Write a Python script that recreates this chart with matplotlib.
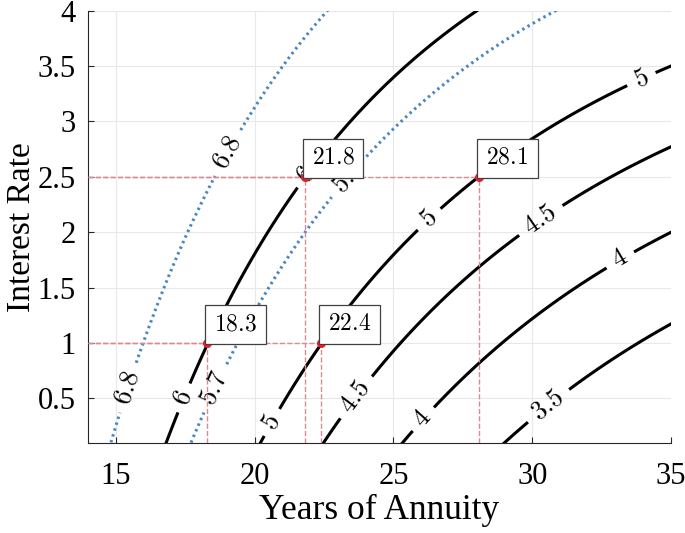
import numpy as np
import matplotlib
matplotlib.use("Agg")
import matplotlib.pyplot as plt

plt.rcParams['font.family'] = ['Liberation Serif', 'DejaVu Serif']
plt.rcParams['mathtext.fontset'] = 'cm'

# contour levels
black_levels = [3.5, 4, 4.5, 5, 6]
blue_levels = [5.7, 6.8]

# marked points (years, interest rate)
point_years = [18.3, 22.4, 21.8, 28.1]
point_rates = [1.0, 1.0, 2.5, 2.5]

# manual label positions (years, rate)
black_label_pos = [(21.7, 2.55), (17.3, 0.52), (20.5, 0.3), (26.2, 2.14), (33.9, 3.4),
                   (23.6, 0.52), (30.3, 2.11), (26.0, 0.33), (33.1, 1.78), (30.5, 0.46)]
blue_label_pos = [(19.0, 2.72), (15.4, 0.6), (18.5, 0.6), (23.4, 2.5)]

x_ticks = [15, 20, 25, 30, 35]
y_ticks = [0.5, 1, 1.5, 2, 2.5, 3, 3.5, 4]

# annuity payout rate (% of principal per year) on a grid
years = np.linspace(13.5, 35.5, 400)
rates = np.linspace(0.05, 4.1, 400)
N, R = np.meshgrid(years, rates)
r = R / 100.0
Z = 100.0 * r / (1.0 - (1.0 + r) ** (-N))

fig = plt.figure(figsize=(6.85, 5.33), dpi=100)
ax = fig.add_axes([0.1285, 0.1694, 0.8511, 0.8106])

ax.grid(True, color='#e8e8e8', linewidth=0.8)
ax.set_axisbelow(True)

fmt = lambda v: f'${v:g}$'

cb = ax.contour(N, R, Z, levels=black_levels, colors='black', linewidths=2.2)
ax.clabel(cb, fmt=fmt, fontsize=19, inline=True, inline_spacing=8,
          manual=black_label_pos, colors='black')

cl = ax.contour(N, R, Z, levels=blue_levels, colors='#4a86bf', linewidths=2.2,
                linestyles=[(0, (0.8, 1.2))])
ax.clabel(cl, fmt=fmt, fontsize=19, inline=True, inline_spacing=8,
          manual=blue_label_pos, colors='black')

dash_col = '#db8a94'
for px, py in zip(point_years, point_rates):
    ax.plot([14, px], [py, py], '--', color=dash_col, linewidth=1.0, zorder=4)
    ax.plot([px, px], [0.1, py], '--', color=dash_col, linewidth=1.0, zorder=4)
    ax.plot(px, py, 'o', color='#e8202a', markersize=5.5, zorder=5)
    ax.annotate(f'${px:g}$', xy=(px, py), xytext=(7, 8), textcoords='offset pixels',
                ha='left', va='bottom', fontsize=17, zorder=6,
                bbox=dict(boxstyle='square,pad=0.38', facecolor='white', edgecolor='#404040',
                          linewidth=0.9))

ax.set_xlim(14, 35)
ax.set_ylim(0.1, 4)
ax.set_xticks(x_ticks)
ax.set_yticks(y_ticks)
ax.set_xticklabels([f'{t:g}' for t in x_ticks])
ax.set_yticklabels([f'{t:g}' for t in y_ticks])
ax.tick_params(direction='in', length=4, labelsize=22, color='#262626')
ax.tick_params(axis='x', pad=14)
ax.tick_params(axis='y', pad=9)
for s in ['top', 'right']:
    ax.spines[s].set_visible(False)
for s in ['left', 'bottom']:
    ax.spines[s].set_color('#262626')
    ax.spines[s].set_linewidth(0.8)

ax.set_xlabel('Years of Annuity', fontsize=25.5, labelpad=2)
ax.set_ylabel('Interest Rate', fontsize=24)
ax.yaxis.set_label_coords(-0.0875, 0.5)

fig.savefig('out.png', dpi=100)
